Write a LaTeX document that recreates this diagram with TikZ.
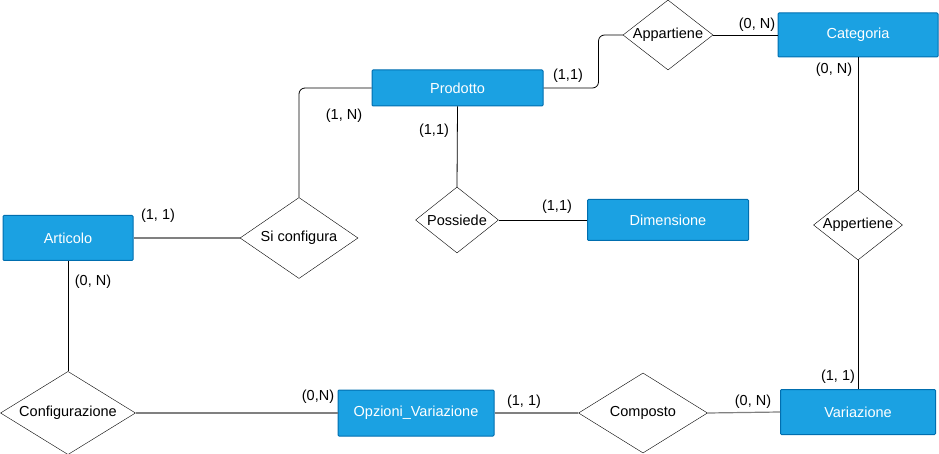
\documentclass[tikz,border=0pt]{standalone}
\usepackage{fontspec}
\setmainfont{Liberation Sans}
\usetikzlibrary{shapes.geometric}
\definecolor{entblue}{HTML}{1BA1E2}
\definecolor{entborder}{HTML}{006EAF}
\definecolor{linkgray}{HTML}{808080}

\begin{document}
\begin{tikzpicture}[
	x=1pt, y=-1pt,
	every node/.style={font=\fontsize{14.5}{17}\selectfont},
	entity/.style={draw=entborder, line width=1pt, fill=entblue, text=white, rectangle, rounded corners=1pt, inner sep=0pt},
	relation/.style={draw, diamond, aspect=1.4, inner sep=0pt, fill=white},
	link/.style={draw, line width=0.8pt},
	glink/.style={draw=linkgray, line width=1.2pt},
	card/.style={inner sep=1pt}
	]
	\useasboundingbox (0,0) rectangle (939,454);
	
	% Entities
	\node[entity, minimum width=171pt, minimum height=36pt] (prodotto) at (457.5,88) {Prodotto};
	\node[entity, minimum width=160pt, minimum height=44pt] (categoria) at (858,35) {Categoria};
	\node[entity, minimum width=130pt, minimum height=45pt] (articolo) at (68,238) {Articolo};
	\node[entity, minimum width=161pt, minimum height=41pt] (dimensione) at (668,220) {Dimensione};
	\node[entity, minimum width=156pt, minimum height=46pt] (opzioni) at (416,413) {Opzioni\_Variazione};
	\node[entity, minimum width=155pt, minimum height=45pt] (variazione) at (858,412) {Variazione};
	
	% Relations
	\node[relation, minimum width=90pt, minimum height=70pt] (appartiene) at (668,35) {Appartiene};
	\node[relation, minimum width=88pt, minimum height=70pt] (appertiene) at (858,225) {Appertiene};
	\node[relation, minimum width=118pt, minimum height=81pt] (siconfigura) at (299,238) {Si configura};
	\node[relation, minimum width=83pt, minimum height=66pt] (possiede) at (457,220) {Possiede};
	\node[relation, minimum width=135pt, minimum height=80pt] (configurazione) at (68,413) {Configurazione};
	\node[relation, minimum width=129pt, minimum height=80pt] (composto) at (643,413) {Composto};
	
	% Connectors
	\draw[link, rounded corners=6pt] (prodotto.east) -- ++(55,0) |- (appartiene.west);
	\draw[link] (appartiene.east) -- (categoria.west);
	\draw[link] (categoria.south) -- (appertiene.north);
	\draw[link] (appertiene.south) -- (variazione.north);
	\draw[link, rounded corners=6pt] (siconfigura.north) |- (prodotto.west);
	\draw[glink] (articolo.east) -- (siconfigura.west);
	\draw[link] (prodotto.south) -- (possiede.north);
	\draw[link] (possiede.east) -- (dimensione.west);
	\draw[link] (articolo.south) -- (configurazione.north);
	\draw[glink] (configurazione.east) -- (opzioni.west);
	\draw[glink] (opzioni.east) -- (composto.west);
	\draw[glink] (composto.east) -- (variazione.west);
	
	% Cardinalities
	\node[card] (cprodapp) at (568,76) {(1,1)};
	\node[card] (ccatapp) at (757,25) {(0, N)};
	\node[card] (ccatvar) at (834,70) {(0, N)};
	\node[card] (cvarcat) at (838,377) {(1, 1)};
	\node[card] (cprodsi) at (344,116) {(1, N)};
	\node[card] (cartsi) at (158,216) {(1, 1)};
	\node[card] (cprodpos) at (434,131) {(1,1)};
	\node[card] (cdimpos) at (557,207) {(1,1)};
	\node[card] (cartconf) at (93,282) {(0, N)};
	\node[card] (copzconf) at (318,397) {(0,N)};
	\node[card] (copzcomp) at (524,402) {(1, 1)};
	\node[card] (cvarcomp) at (753,402) {(0, N)};
	
\end{tikzpicture}
\end{document}
